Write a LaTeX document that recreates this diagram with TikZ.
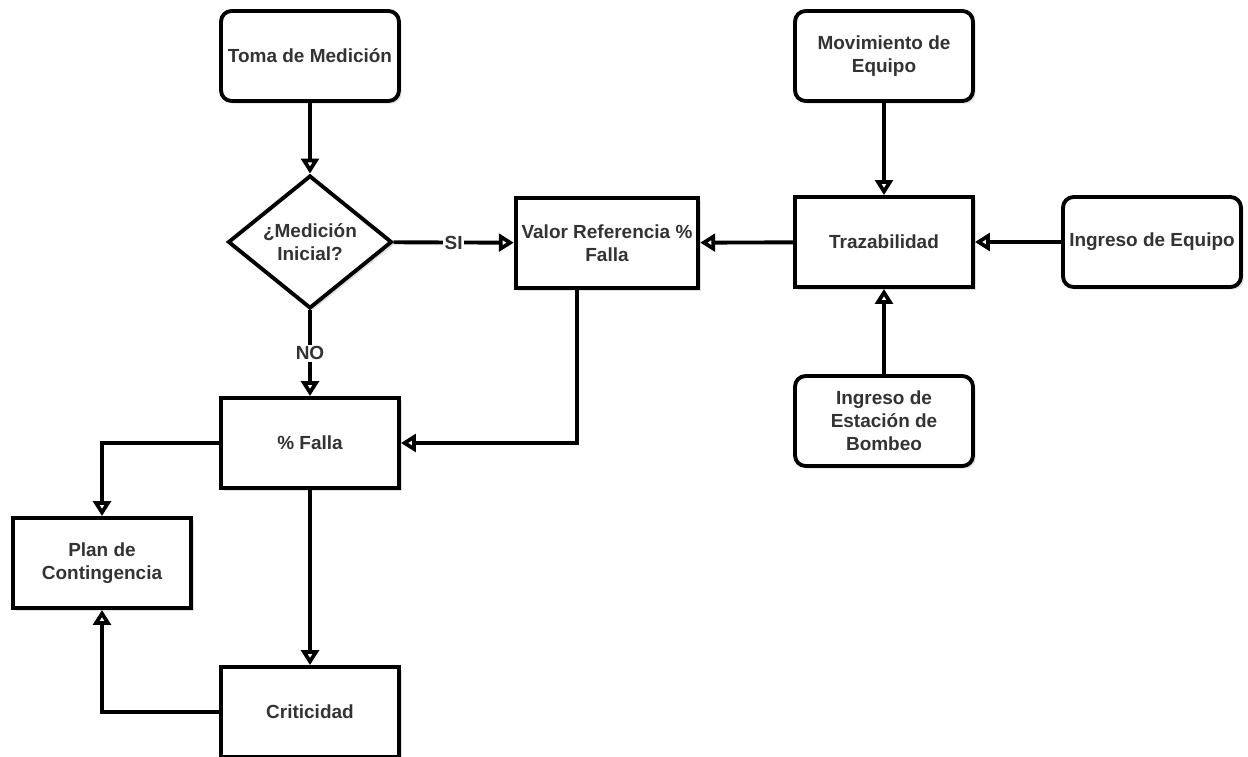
\documentclass[tikz,border=0pt]{standalone}
\usepackage{fontspec}
\setmainfont{Liberation Sans}
\usetikzlibrary{arrows.meta,shapes.geometric,shadows}

\begin{document}
\begin{tikzpicture}[x=0.02cm,y=-0.02cm]
    \tikzset{caja/.style = {%
        shape= rectangle,
        draw, line width=2.2pt,
        fill= white,
        text= black!80,
        align= center,
        font= \bfseries\fontsize{10.8}{13}\selectfont,
        minimum width = 3.56cm, minimum height = 1.8cm,%
        drop shadow={shadow xshift=1.5pt,shadow yshift=-1.5pt,opacity=0.25}}}
    \tikzset{cajaredonda/.style = {caja, rounded corners=6pt}}
    \tikzset{rombo/.style = {caja, shape= diamond, inner sep=0pt,
        minimum width = 3.28cm, minimum height = 2.66cm}}
    \tikzset{flecha/.style = {draw, line width=2.2pt,
        -{Triangle[open,length=8.5pt,width=10pt]}}}
    \tikzset{etiqueta/.style = {fill=white, inner sep=1pt, text=black!80,
        font=\bfseries\fontsize{10.8}{13}\selectfont}}
    \useasboundingbox (0,0) rectangle (1248,757);
    \node[cajaredonda] (toma) at (310,56) {Toma de Medición};
    \node[rombo] (medini) at (310,242) {¿Medición\\Inicial?};
    \node[caja] (valor) at (607,243) {Valor Referencia \%\\Falla};
    \node[caja] (traza) at (884,242) {Trazabilidad};
    \node[cajaredonda] (movim) at (884,56) {Movimiento de\\Equipo};
    \node[cajaredonda] (ingequipo) at (1152,242) {Ingreso de Equipo};
    \node[cajaredonda] (ingestacion) at (884,421) {Ingreso de\\Estación de\\Bombeo};
    \node[caja] (falla) at (310,443) {\% Falla};
    \node[caja] (plan) at (102,563) {Plan de\\Contingencia};
    \node[caja] (critic) at (310,712) {Criticidad};
    % conectores
    \draw[flecha] (toma) -- (medini);
    \draw[flecha] (medini) -- node[etiqueta]{SI} (valor);
    \draw[flecha] (medini) -- node[etiqueta]{NO} (falla);
    \draw[flecha] (traza) -- (valor);
    \draw[flecha] (movim) -- (traza);
    \draw[flecha] (ingequipo) -- (traza);
    \draw[flecha] (ingestacion) -- (traza);
    \draw[flecha] ([xshift=-0.6cm]valor.south) |- (falla);
    \draw[flecha] (falla) -| (plan);
    \draw[flecha] (falla) -- (critic);
    \draw[flecha] (critic) -| (plan);
  \end{tikzpicture}
\end{document}
